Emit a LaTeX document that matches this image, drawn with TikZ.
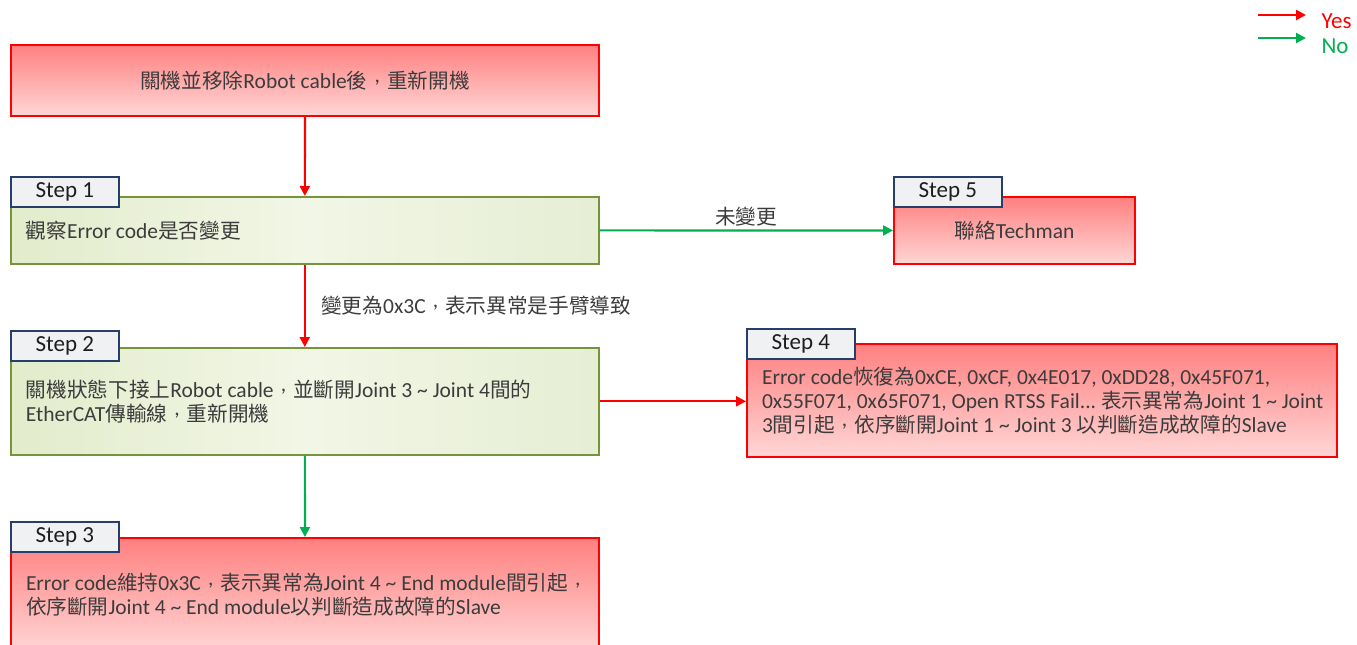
\documentclass[tikz,border=0pt]{standalone}
\usepackage{fontspec}
\setmainfont{Carlito}
\newfontfamily\cjk{Noto Sans CJK TC}[Scale=0.96]
\usepackage{tikz}
\usetikzlibrary{positioning,arrows.meta}
\definecolor{ycol}{RGB}{255,0,0}
\definecolor{ncol}{RGB}{0,176,80}
\definecolor{gline}{RGB}{119,147,60}
\definecolor{lline}{RGB}{38,62,105}
\definecolor{txt}{RGB}{60,60,60}
\newcommand{\zh}[1]{{\cjk #1}}
\newcommand{\tld}{\textasciitilde}
% centred full-width comma
\newcommand{\dc}{\makebox[0.95em]{\rmfamily\raisebox{0.26em}{,}}}

\begin{document}
\frenchspacing
\begin{tikzpicture}[x=1pt,y=-1pt,
 bx/.style={anchor=north west,inner xsep=15pt,inner ysep=2pt,text=txt,font=\fontsize{21.5}{24}\selectfont},
 rb/.style={bx,draw=ycol,line width=2pt,top color={rgb,255:red,255;green,128;blue,128},bottom color={rgb,255:red,255;green,214;blue,214}},
 gb/.style={bx,draw=gline,line width=1.6pt,left color={rgb,255:red,226;green,236;blue,203},right color={rgb,255:red,230;green,238;blue,212},middle color={rgb,255:red,242;green,246;blue,230}},
 lbl/.style={anchor=south west,draw=lline,line width=1.6pt,fill={rgb,255:red,240;green,241;blue,243},minimum width=108pt,minimum height=30pt,inner sep=0pt,text={rgb,255:red,30;green,30;blue,30},font=\fontsize{23}{24}\selectfont},
 yarr/.style={draw=ycol,line width=2.2pt,-{Triangle[length=10pt,width=10pt]}},
 narr/.style={draw=ncol,line width=2.2pt,-{Triangle[length=10pt,width=10pt]}},
 lab/.style={text=txt,font=\fontsize{21.5}{24}\selectfont}]
\useasboundingbox (0,0) rectangle (1357,645);
% boxes
\node[rb,minimum width=588pt,minimum height=71pt,align=center] (top) at (10,44) {\zh{關機並移除}Robot cable\zh{後\dc 重新開機}};
\node[gb,minimum height=67pt,text width=558pt,align=flush left] (s1) at (10,196) {\mbox{\zh{觀察}Error code\zh{是否變更}}};
\node[rb,minimum width=241pt,minimum height=67pt,align=center] (s5) at (893,196) {\zh{聯絡}Techman};
\node[gb,minimum height=107pt,text width=558pt,align=flush left] (s2) at (10,347) {\mbox{\zh{關機狀態下接上}Robot cable\zh{\dc 並斷開}Joint 3 \tld{} Joint 4\zh{間的}}\\\mbox{EtherCAT\zh{傳輸線\dc 重新開機}}};
\node[rb,minimum height=113pt,text width=560pt,align=flush left] (s4) at (746,343) {\mbox{Error code\zh{恢復為}0xCE, 0xCF, 0x4E017, 0xDD28, 0x45F071,}\\\mbox{0x55F071, 0x65F071, Open RTSS Fail... \zh{表示異常為}Joint 1 \tld{} Joint}\\\mbox{3\zh{間引起\dc 依序斷開}Joint 1 \tld{} Joint 3 \zh{以判斷造成故障的}Slave}};
\node[rb,minimum height=114pt,text width=558pt,align=flush left] (s3) at (10,537) {\mbox{Error code\zh{維持}0x3C\zh{\dc 表示異常為}Joint 4 \tld{} End module\zh{間引起\dc}}\\\mbox{\zh{依序斷開}Joint 4 \tld{} End module\zh{以判斷造成故障的}Slave}};
% step tags
\node[lbl] (l1) at ([yshift=-12pt]s1.north west) {Step 1};
\node[lbl] (l5) at ([yshift=-12pt]s5.north west) {Step 5};
\node[lbl] (l2) at ([yshift=-15pt]s2.north west) {Step 2};
\node[lbl] (l4) at ([yshift=-17pt]s4.north west) {Step 4};
\node[lbl] (l3) at ([yshift=-16pt]s3.north west) {Step 3};
% arrows
\draw[yarr] (top) -- (s1);
\draw[narr] (s1) -- node[lab,above] (t1) {\zh{未變更}} (s5);
\draw[yarr] (s1) -- node[lab,right=12pt] (t2) {\zh{變更為}0x3C\zh{\dc 表示異常是手臂導致}} (s2);
\draw[yarr] (s2.east) -- (s2.east -| s4.west);
\draw[narr] (s2) -- (s3);
% legend
\node[anchor=west,text=ycol,font=\fontsize{23}{24}\selectfont] (ly) at (1318,21) {Yes};
\node[anchor=west,text=ncol,font=\fontsize{23}{24}\selectfont] (ln) at (1318,46) {No};
\coordinate (ya) at (1258,15); \coordinate (yb) at (1306,15);
\coordinate (na) at (1258,38); \coordinate (nb) at (1306,38);
\draw[yarr] (ya) -- (yb);
\draw[narr] (na) -- (nb);
\end{tikzpicture}
\end{document}
